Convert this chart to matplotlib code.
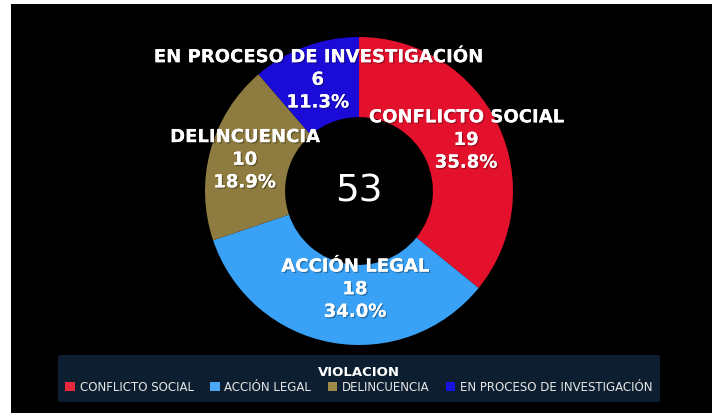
import numpy as np
import matplotlib.pyplot as plt
from matplotlib.patches import Rectangle, FancyBboxPatch
import matplotlib.patheffects as pe

# datos
categorias = ['CONFLICTO SOCIAL', 'ACCIÓN LEGAL', 'DELINCUENCIA', 'EN PROCESO DE INVESTIGACIÓN']
valores = [19, 18, 10, 6]
colores = ['#E3112C', '#3AA2F6', '#8E7B3F', '#1A0BD9']
colores_leyenda = ['#E8263C', '#4BA8F5', '#A08A47', '#1A14E0']
titulo_leyenda = 'VIOLACION'

# pequeno ajuste de posicion de etiquetas (unidades del eje)
ajuste_etiquetas = {'ACCIÓN LEGAL': (0.11, 0.12)}

total = sum(valores)

fig = plt.figure(figsize=(7.12, 4.14), dpi=100, facecolor='white')

# fondo negro del grafico
fig.patches.append(Rectangle((11 / 712, 0), 1, (414 - 5) / 414, transform=fig.transFigure,
                             facecolor='black', edgecolor='none', zorder=-10))

# caja de la leyenda
fig.patches.append(FancyBboxPatch((58 / 712, (414 - 403) / 414), 602 / 712, 47 / 414,
                                  boxstyle='round,pad=0,rounding_size=0.004',
                                  transform=fig.transFigure, facecolor='#0C1E30',
                                  edgecolor='none', zorder=-5))

ax = fig.add_axes([205 / 712, 68 / 414, 308 / 712, 308 / 414])
ax.set_facecolor('none')
wedges, _ = ax.pie(valores, colors=colores, startangle=90, counterclock=False, radius=1,
                   wedgeprops=dict(width=0.52, edgecolor='none'))
ax.set_xlim(-1, 1)
ax.set_ylim(-1, 1)
ax.set_aspect('equal')
ax.axis('off')

sombra = [pe.withSimplePatchShadow(offset=(1, -1), shadow_rgbFace='black', alpha=0.3), pe.Normal()]

for w, cat, v in zip(wedges, categorias, valores):
    ang = np.deg2rad((w.theta1 + w.theta2) / 2)
    r = 0.77
    dx, dy = ajuste_etiquetas.get(cat, (0, 0))
    ax.text(r * np.cos(ang) + dx, r * np.sin(ang) + dy, f'{cat}\n{v}\n{v / total * 100:.1f}%',
            ha='center', va='center', color='white', fontsize=13, fontweight='bold',
            linespacing=1.33, clip_on=False, path_effects=sombra)

ax.text(0, 0, str(total), ha='center', va='center', color='white', fontsize=27)

handles = [plt.Rectangle((0, 0), 1, 1, facecolor=c, edgecolor='none') for c in colores_leyenda]
leg = fig.legend(handles, categorias, loc='center', bbox_to_anchor=(359 / 712, (414 - 380) / 414),
                 ncol=4, frameon=False, fontsize=8.5, labelcolor='#E6E6E6',
                 title=titulo_leyenda, handlelength=0.8, handleheight=0.8, handletextpad=0.4,
                 columnspacing=1.4, borderpad=0.2, labelspacing=0.2)
leg.get_title().set_color('white')
leg.get_title().set_fontweight('bold')
leg.get_title().set_fontsize(9.5)

fig.savefig('out.png', dpi=100, facecolor='white')
